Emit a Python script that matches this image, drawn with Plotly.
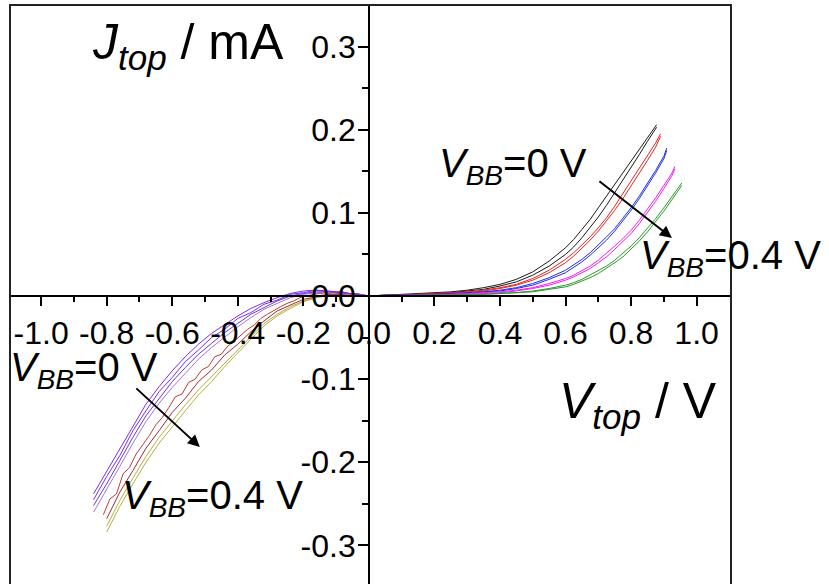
import plotly.graph_objects as go

# ---------------- data (J in mA, V in volts) ----------------
# forward-bias side, five back-bias settings, two sweeps each
V_BLACK = [0.00, 0.05, 0.10, 0.15, 0.20, 0.25, 0.30, 0.35, 0.40, 0.45, 0.50, 0.55, 0.60,
           0.625, 0.65, 0.675, 0.70, 0.725, 0.75, 0.775, 0.80, 0.825, 0.85, 0.878]
J_BLACK_1 = [0.000, 0.001, 0.002, 0.003, 0.004, 0.005, 0.007, 0.010, 0.014, 0.020, 0.029, 0.042, 0.058,
             0.068, 0.080, 0.092, 0.106, 0.120, 0.134, 0.148, 0.162, 0.176, 0.190, 0.206]
J_BLACK_2 = [0.000, 0.001, 0.001, 0.002, 0.003, 0.004, 0.006, 0.008, 0.012, 0.017, 0.025, 0.036, 0.050,
             0.059, 0.070, 0.082, 0.095, 0.109, 0.124, 0.139, 0.154, 0.170, 0.186, 0.203]

V_RED = [0.00, 0.05, 0.10, 0.15, 0.20, 0.25, 0.30, 0.35, 0.40, 0.45, 0.50, 0.55, 0.60,
         0.625, 0.65, 0.675, 0.70, 0.725, 0.75, 0.775, 0.80, 0.825, 0.85, 0.875, 0.89]
J_RED_1 = [0.000, 0.001, 0.001, 0.002, 0.003, 0.004, 0.005, 0.007, 0.010, 0.014, 0.021, 0.031, 0.044,
           0.052, 0.061, 0.071, 0.082, 0.094, 0.108, 0.123, 0.138, 0.153, 0.168, 0.184, 0.195]
J_RED_2 = [0.000, 0.000, 0.001, 0.002, 0.002, 0.003, 0.004, 0.006, 0.009, 0.013, 0.019, 0.028, 0.040,
           0.048, 0.057, 0.067, 0.078, 0.090, 0.103, 0.117, 0.132, 0.147, 0.163, 0.179, 0.192]

V_BLUE = [0.00, 0.05, 0.10, 0.15, 0.20, 0.25, 0.30, 0.35, 0.40, 0.45, 0.50, 0.55, 0.60,
          0.625, 0.65, 0.675, 0.70, 0.725, 0.75, 0.775, 0.80, 0.825, 0.85, 0.875, 0.90, 0.909]
J_BLUE_1 = [0.000, 0.001, 0.001, 0.001, 0.002, 0.003, 0.004, 0.005, 0.007, 0.010, 0.015, 0.022, 0.031,
            0.037, 0.044, 0.052, 0.061, 0.071, 0.081, 0.093, 0.106, 0.120, 0.135, 0.151, 0.168, 0.178]
J_BLUE_2 = [0.000, 0.000, 0.001, 0.001, 0.002, 0.002, 0.003, 0.005, 0.006, 0.009, 0.013, 0.020, 0.028,
            0.034, 0.041, 0.049, 0.058, 0.067, 0.078, 0.090, 0.103, 0.117, 0.132, 0.148, 0.165, 0.175]

V_MAGENTA = [0.00, 0.05, 0.10, 0.15, 0.20, 0.25, 0.30, 0.35, 0.40, 0.45, 0.50, 0.55, 0.60,
             0.625, 0.65, 0.675, 0.70, 0.725, 0.75, 0.775, 0.80, 0.825, 0.85, 0.875, 0.90, 0.925, 0.934]
J_MAGENTA_1 = [0.000, 0.000, 0.001, 0.001, 0.001, 0.002, 0.003, 0.004, 0.005, 0.007, 0.010, 0.015, 0.021,
               0.025, 0.030, 0.036, 0.043, 0.051, 0.060, 0.069, 0.079, 0.091, 0.104, 0.118, 0.133, 0.148, 0.156]
J_MAGENTA_2 = [0.000, 0.000, 0.000, 0.001, 0.001, 0.002, 0.002, 0.003, 0.004, 0.006, 0.009, 0.013, 0.019,
               0.023, 0.028, 0.033, 0.040, 0.047, 0.056, 0.065, 0.075, 0.087, 0.100, 0.114, 0.129, 0.145, 0.153]

V_GREEN = [0.00, 0.05, 0.10, 0.15, 0.20, 0.25, 0.30, 0.35, 0.40, 0.45, 0.50, 0.55, 0.60,
           0.625, 0.65, 0.675, 0.70, 0.725, 0.75, 0.775, 0.80, 0.825, 0.85, 0.875, 0.90, 0.925, 0.95, 0.955]
J_GREEN_1 = [0.000, 0.000, 0.000, 0.001, 0.001, 0.001, 0.002, 0.002, 0.003, 0.004, 0.006, 0.009, 0.013,
             0.016, 0.020, 0.025, 0.030, 0.036, 0.043, 0.051, 0.060, 0.070, 0.081, 0.093, 0.106, 0.120, 0.133, 0.136]
J_GREEN_2 = [0.000, 0.000, 0.000, 0.000, 0.001, 0.001, 0.001, 0.002, 0.003, 0.004, 0.005, 0.008, 0.011,
             0.014, 0.018, 0.022, 0.027, 0.033, 0.040, 0.047, 0.056, 0.066, 0.077, 0.089, 0.102, 0.116, 0.130, 0.133]

# reverse-bias side, five back-bias settings
V_LEFT = [-0.84, -0.80, -0.76, -0.72, -0.68, -0.64, -0.60, -0.56, -0.52, -0.48, -0.44,
          -0.40, -0.36, -0.32, -0.28, -0.24, -0.20, -0.16, -0.12, -0.08, -0.04, 0.00]
J_PURPLE_1 = [-0.238, -0.211, -0.184, -0.156, -0.130, -0.109, -0.090, -0.073, -0.058, -0.045, -0.034,
              -0.024, -0.015, -0.008, -0.002, 0.003, 0.006, 0.007, 0.006, 0.004, 0.002, 0.000]
J_PURPLE_2 = [-0.245, -0.217, -0.192, -0.162, -0.138, -0.115, -0.098, -0.079, -0.065, -0.050, -0.040,
              -0.027, -0.020, -0.010, -0.005, 0.002, 0.004, 0.007, 0.005, 0.005, 0.001, 0.000]
J_VIOLET = [-0.252, -0.226, -0.198, -0.170, -0.144, -0.123, -0.103, -0.086, -0.070, -0.057, -0.044,
            -0.033, -0.022, -0.014, -0.006, 0.000, 0.003, 0.005, 0.005, 0.004, 0.002, 0.000]
J_MAUVE = [-0.260, -0.233, -0.205, -0.177, -0.151, -0.129, -0.110, -0.093, -0.076, -0.062, -0.049,
           -0.037, -0.026, -0.016, -0.009, -0.002, 0.002, 0.004, 0.004, 0.004, 0.002, 0.000]
J_MAROON = [None, -0.268, -0.236, -0.210, -0.183, -0.162, -0.140, -0.123, -0.103, -0.089, -0.071,
            -0.058, -0.043, -0.030, -0.018, -0.011, -0.004, -0.001, 0.002, 0.002, 0.003, 0.000]
J_OLIVE_1 = [None, -0.284, -0.253, -0.226, -0.200, -0.177, -0.157, -0.138, -0.119, -0.103, -0.085,
             -0.068, -0.052, -0.036, -0.024, -0.015, -0.007, -0.002, 0.001, 0.003, 0.003, 0.000]
J_OLIVE_2 = [None, -0.277, -0.246, -0.219, -0.193, -0.170, -0.150, -0.131, -0.113, -0.097, -0.080,
             -0.064, -0.048, -0.033, -0.022, -0.013, -0.006, -0.001, 0.002, 0.003, 0.003, 0.000]

# noisier reverse sweep, finer voltage steps
V_RED_LEFT = [-0.81, -0.79, -0.77, -0.75, -0.73, -0.71, -0.69, -0.67, -0.65, -0.63, -0.61,
              -0.59, -0.57, -0.55, -0.53, -0.51, -0.49, -0.47, -0.45, -0.43, -0.41,
              -0.39, -0.37, -0.35, -0.33, -0.31, -0.29, -0.27, -0.25, -0.23, -0.21,
              -0.19, -0.17, -0.15, -0.13, -0.11, -0.09, -0.07, -0.05, -0.03, -0.01]
J_RED_LEFT = [-0.263, -0.244, -0.238, -0.214, -0.206, -0.190, -0.179, -0.168, -0.155, -0.146, -0.134,
              -0.121, -0.118, -0.104, -0.100, -0.089, -0.085, -0.073, -0.070, -0.060, -0.054,
              -0.047, -0.040, -0.035, -0.027, -0.022, -0.017, -0.013, -0.009, -0.006, -0.002,
              0.000, 0.002, 0.003, 0.002, 0.004, 0.003, 0.003, 0.002, 0.002, 0.000]

X_TICKS = [-1.0, -0.8, -0.6, -0.4, -0.2, 0.0, 0.2, 0.4, 0.6, 0.8, 1.0]
X_TICK_TEXT = ["-1.0", "-0.8", "-0.6", "-0.4", "-0.2", "0.0", "0.2", "0.4", "0.6", "0.8", "1.0"]
X_MINOR = [-0.9, -0.7, -0.5, -0.3, -0.1, 0.1, 0.3, 0.5, 0.7, 0.9]
Y_TICKS = [-0.3, -0.2, -0.1, 0.0, 0.1, 0.2, 0.3]
Y_TICK_TEXT = ["-0.3", "-0.2", "-0.1", "0.0", "0.1", "0.2", "0.3"]
Y_MINOR = [-0.25, -0.15, -0.05, 0.05, 0.15, 0.25]

X_RANGE = [-1.095, 1.105]
Y_RANGE = [-0.3464, 0.35]

FONT = "Liberation Sans, Arial, sans-serif"
TICK_SIZE = 32

# plot area in pixels
PLOT_L, PLOT_R, PLOT_T, PLOT_B = 10, 731, 5, 584

# ---------------- figure ----------------
fig = go.Figure()

curves = [
    (V_BLACK, J_BLACK_1, "#1a1a1a"), (V_BLACK, J_BLACK_2, "#1a1a1a"),
    (V_RED, J_RED_1, "#e8231f"), (V_RED, J_RED_2, "#e8231f"),
    (V_BLUE, J_BLUE_1, "#1f2ee8"), (V_BLUE, J_BLUE_2, "#1f2ee8"),
    (V_MAGENTA, J_MAGENTA_1, "#f01ef0"), (V_MAGENTA, J_MAGENTA_2, "#f01ef0"),
    (V_GREEN, J_GREEN_1, "#2a9a2a"), (V_GREEN, J_GREEN_2, "#2a9a2a"),
    (V_LEFT, J_OLIVE_1, "#b0b040"), (V_LEFT, J_OLIVE_2, "#b0b040"),
    (V_LEFT, J_MAROON, "#a02a3a"), (V_RED_LEFT, J_RED_LEFT, "#c03a30"),
    (V_LEFT, J_MAUVE, "#b070d0"), (V_LEFT, J_VIOLET, "#5a3ae8"),
    (V_LEFT, J_PURPLE_2, "#7a2cf0"), (V_LEFT, J_PURPLE_1, "#7a2cf0"),
]
for vx, jy, col in curves:
    fig.add_trace(go.Scatter(x=vx, y=jy, mode="lines", line=dict(color=col, width=1),
                             showlegend=False, hoverinfo="skip"))

x_pos = (0 - Y_RANGE[0]) / (Y_RANGE[1] - Y_RANGE[0])
y_pos = (0 - X_RANGE[0]) / (X_RANGE[1] - X_RANGE[0])

fig.update_layout(
    width=829, height=584,
    margin=dict(l=PLOT_L, r=829 - PLOT_R, t=PLOT_T, b=584 - PLOT_B),
    paper_bgcolor="white", plot_bgcolor="white",
    font=dict(family=FONT, color="black"),
    xaxis=dict(range=X_RANGE, anchor="free", position=x_pos, side="bottom",
               showgrid=False, zeroline=False, showline=True, linecolor="black", linewidth=1.5,
               ticks="outside", ticklen=9, tickwidth=1.5, tickcolor="black",
               tickmode="array", tickvals=X_TICKS, ticktext=X_TICK_TEXT,
               tickfont=dict(size=TICK_SIZE, family=FONT, color="black"),
               minor=dict(tickmode="array", tickvals=X_MINOR, ticks="outside", ticklen=5,
                          tickwidth=1.5, tickcolor="black")),
    yaxis=dict(range=Y_RANGE, anchor="free", position=y_pos, side="left",
               showgrid=False, zeroline=False, showline=True, linecolor="black", linewidth=1.5,
               ticks="outside", ticklen=10, tickwidth=1.5, tickcolor="black",
               ticklabelstandoff=-4,
               tickmode="array", tickvals=Y_TICKS, ticktext=Y_TICK_TEXT,
               tickfont=dict(size=TICK_SIZE, family=FONT, color="black"),
               minor=dict(tickmode="array", tickvals=Y_MINOR, ticks="outside", ticklen=6,
                          tickwidth=1.5, tickcolor="black")),
)

# outer frame (left, top, right)
fig.add_shape(type="path", xref="paper", yref="paper",
              path="M 0 0 L 0 1 L 1 1 L 1 0",
              line=dict(color="#222222", width=2))


def px_to_paper_x(px):
    return (px - PLOT_L) / (PLOT_R - PLOT_L)


def py_to_paper_y(py):
    return (PLOT_B - py) / (PLOT_B - PLOT_T)


def px_to_x(px):
    return (px - 369) / 327.7


def py_to_y(py):
    return (296 - py) / 831.4


labels = [
    ("<i>J</i><sub><i>top</i></sub> / mA", 90, 46, 50),
    ("<i>V</i><sub><i>top</i></sub> / V", 557, 404, 50),
    ("<i>V</i><sub><i>BB</i></sub>=0 V", 437, 166, 40),
    ("<i>V</i><sub><i>BB</i></sub>=0.4 V", 638, 258, 40),
    ("<i>V</i><sub><i>BB</i></sub>=0 V", 8, 370, 40),
    ("<i>V</i><sub><i>BB</i></sub>=0.4 V", 120, 498, 40),
]
for txt, lx, cy, size in labels:
    fig.add_annotation(text=txt, x=px_to_paper_x(lx), y=py_to_paper_y(cy),
                       xref="paper", yref="paper",
                       xanchor="left", yanchor="middle", showarrow=False,
                       font=dict(size=size, family=FONT, color="black"))

arrows = [((598, 180), (672, 238)), ((135, 387), (200, 447))]
for (tx, ty), (hx, hy) in arrows:
    fig.add_annotation(x=px_to_x(hx), y=py_to_y(hy), ax=px_to_x(tx), ay=py_to_y(ty),
                       xref="x", yref="y", axref="x", ayref="y", text="",
                       showarrow=True, arrowhead=2, arrowsize=1.2, arrowwidth=2, arrowcolor="black")

fig.write_html("out.html")
